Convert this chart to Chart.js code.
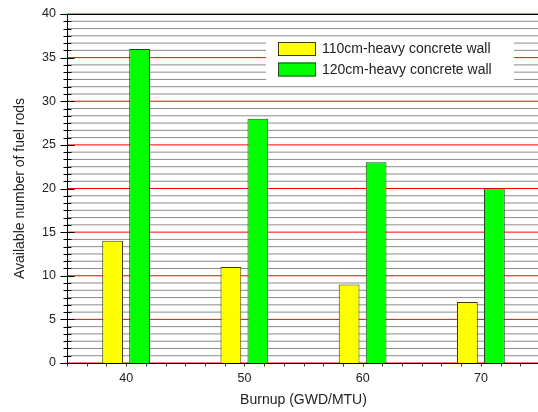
<!DOCTYPE html>
<html>
<head>
<meta charset="utf-8">
<script src="https://cdn.jsdelivr.net/npm/chart.js@4/dist/chart.umd.min.js"></script>
<style>
  html, body { margin: 0; padding: 0; background: #fff; overflow: hidden; }
  #wrap { width: 540px; height: 412px; position: relative; }
</style>
</head>
<body>
<div id="wrap"><canvas id="c"></canvas></div>
<script>
// ---- data ----
const categories = [40, 50, 60, 70];
const wall110 = [14, 11, 9, 7];
const wall120 = [36, 28, 23, 20];
const seriesLabels = ['110cm-heavy concrete wall', '120cm-heavy concrete wall'];
const xTickLabels = ['40', '50', '60', '70'];
const yTickLabels = ['0', '5', '10', '15', '20', '25', '30', '35', '40'];
const xTitle = 'Burnup (GWD/MTU)';
const yTitle = 'Available number of fuel rods';

const FONT = 'Arial, "Liberation Sans", sans-serif';
const X_MIN = 35, X_MAX = 75, X_STEP = 5 / 3;
const Y_MIN = 0, Y_MAX = 40, Y_STEP = 5 / 6;

const fills = ['#ffff00', '#00ff00'];
const borders = ['#3c3c00', '#1c4a1c'];

const gridPlugin = {
  id: 'gridPlugin',
  beforeDatasetsDraw(chart) {
    const ctx = chart.ctx;
    const a = chart.chartArea;
    const ys = chart.scales.y;
    ctx.save();
    ctx.beginPath();
    ctx.rect(a.left, a.top - 1, a.right - a.left, a.bottom - a.top + 2);
    ctx.clip();
    ctx.lineWidth = 1;
    ys.ticks.forEach((t, i) => {
      const y = ys.getPixelForValue(t.value);
      ctx.strokeStyle = (i % 6 === 0) ? 'rgb(255,0,0)' : '#8c8c8c';
      ctx.beginPath();
      ctx.moveTo(a.left, y); ctx.lineTo(a.right, y);
      ctx.stroke();
    });
    ctx.restore();
  }
};

const axesPlugin = {
  id: 'axesPlugin',
  afterDraw(chart) {
    const ctx = chart.ctx;
    const a = chart.chartArea;
    const xs = chart.scales.x, ys = chart.scales.y;
    ctx.save();
    ctx.strokeStyle = '#000';
    ctx.lineWidth = 1;
    const L = Math.round(a.left) + 0.5;
    const T = Math.round(a.top) + 0.5;
    const B = Math.round(a.bottom) + 0.5;
    ctx.beginPath();
    ctx.moveTo(L - 7, T); ctx.lineTo(a.right, T);
    ctx.moveTo(L, T); ctx.lineTo(L, B);
    ctx.moveTo(L - 7, B); ctx.lineTo(a.right, B);
    ctx.stroke();
    // y ticks
    ctx.beginPath();
    ys.ticks.forEach((t, i) => {
      const y = Math.round(ys.getPixelForValue(t.value)) + 0.5;
      if (i % 6 === 0) { ctx.moveTo(L - 7, y); ctx.lineTo(L + 7, y); }
      else { ctx.moveTo(L - 4, y); ctx.lineTo(L + 4, y); }
    });
    ctx.stroke();
    // x ticks
    ctx.strokeStyle = '#333';
    ctx.beginPath();
    xs.ticks.forEach((t) => {
      const x = Math.round(xs.getPixelForValue(t.value)) + 0.5;
      ctx.moveTo(x, B); ctx.lineTo(x, B + 3);
    });
    ctx.stroke();

    // legend
    const bx = 266, by = 39, bw = 248, bh = 45;
    ctx.fillStyle = '#fff';
    ctx.fillRect(bx, by, bw, bh);
    ctx.font = '14px ' + FONT;
    ctx.textBaseline = 'middle';
    ctx.textAlign = 'left';
    chart.data.datasets.forEach((ds, i) => {
      const sy = 42 + i * 20.5;
      ctx.fillStyle = ds.backgroundColor;
      ctx.fillRect(278, sy, 38, 14);
      ctx.strokeStyle = ds.borderColor;
      ctx.strokeRect(278.5, sy + 0.5, 37, 13);
      ctx.fillStyle = '#222';
      ctx.fillText(ds.label, 322, sy + 7.5);
    });
    ctx.restore();
  }
};

new Chart(document.getElementById('c'), {
  type: 'bar',
  data: {
    datasets: [
      {
        label: seriesLabels[0],
        data: categories.map((c, i) => ({ x: c, y: wall110[i] })),
        backgroundColor: fills[0], borderColor: borders[0], borderWidth: 1,
        categoryPercentage: 2.74, barPercentage: 0.77
      },
      {
        label: seriesLabels[1],
        data: categories.map((c, i) => ({ x: c, y: wall120[i] })),
        backgroundColor: fills[1], borderColor: borders[1], borderWidth: 1,
        categoryPercentage: 2.74, barPercentage: 0.77
      }
    ]
  },
  options: {
    responsive: true,
    maintainAspectRatio: false,
    animation: false,
    layout: { padding: { top: 14, right: 0, left: 0, bottom: 0 } },
    plugins: { legend: { display: false }, tooltip: { enabled: false } },
    scales: {
      x: {
        type: 'linear',
        min: X_MIN, max: X_MAX,
        offset: false,
        grid: { display: false, offset: false, drawTicks: false },
        border: { display: false },
        afterBuildTicks(scale) {
          const t = [];
          for (let k = 0; k <= Math.round((X_MAX - X_MIN) / X_STEP); k++) t.push({ value: X_MIN + k * X_STEP });
          scale.ticks = t;
        },
        afterFit(scale) { scale.height = 49; scale.paddingLeft = 0; scale.paddingRight = 0; },
        ticks: {
          autoSkip: false, maxRotation: 0, padding: 8,
          color: '#222', font: { family: FONT, size: 12.5 },
          callback(v, i) { return (i - 3) % 6 === 0 && i >= 3 ? xTickLabels[(i - 3) / 6] : ''; }
        },
        title: {
          display: true, text: xTitle, color: '#222',
          font: { family: FONT, size: 14 }, padding: { top: 0, bottom: 3 }
        }
      },
      y: {
        min: Y_MIN, max: Y_MAX,
        grid: { display: false, drawTicks: false },
        border: { display: false },
        afterBuildTicks(scale) {
          const t = [];
          for (let k = 0; k <= Math.round((Y_MAX - Y_MIN) / Y_STEP); k++) t.push({ value: Y_MIN + k * Y_STEP });
          scale.ticks = t;
        },
        afterFit(scale) { scale.width = 67; scale.paddingTop = 0; scale.paddingBottom = 0; },
        ticks: {
          autoSkip: false, padding: 11,
          color: '#222', font: { family: FONT, size: 12.5 },
          callback(v, i) { return i % 6 === 0 ? yTickLabels[i / 6] : ''; }
        },
        title: {
          display: true, text: yTitle, color: '#222',
          font: { family: FONT, size: 14 }, padding: { top: 12, bottom: 0 }
        }
      }
    }
  },
  plugins: [gridPlugin, axesPlugin]
});
</script>
</body>
</html>
